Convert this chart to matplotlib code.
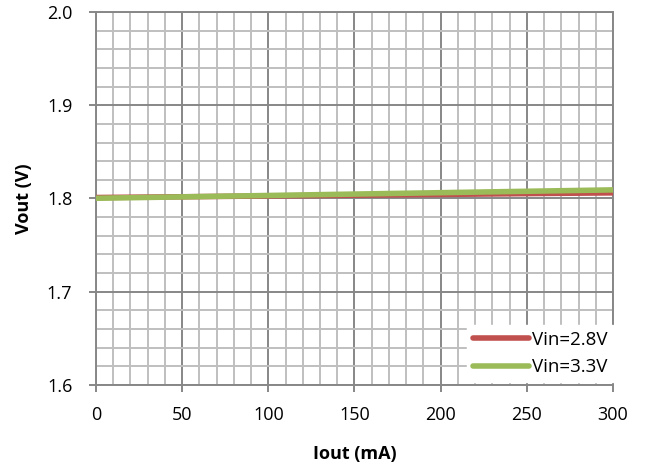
import numpy as np
import matplotlib.pyplot as plt
from matplotlib.ticker import MultipleLocator

plt.rcParams['font.family'] = ['Open Sans', 'DejaVu Sans']

# data
iout = [0, 50, 100, 150, 200, 250, 300]
vout_28 = [1.8010, 1.8018, 1.8027, 1.8035, 1.8043, 1.8052, 1.8060]
vout_33 = [1.8002, 1.8017, 1.8032, 1.8047, 1.8062, 1.8077, 1.8092]
labels = ['Vin=2.8V', 'Vin=3.3V']

fig = plt.figure(figsize=(6.45, 4.7), dpi=100)
ax = fig.add_axes([0.1488, 0.181, 0.8016, 0.7935])

ax.plot(iout, vout_28, color='#C0504D', lw=4, solid_capstyle='round', label=labels[0], zorder=3)
ax.plot(iout, vout_33, color='#9BBB59', lw=4, solid_capstyle='round', label=labels[1], zorder=4)

ax.set_xlim(0, 300)
ax.set_ylim(1.6, 2.0)
ax.xaxis.set_major_locator(MultipleLocator(50))
ax.xaxis.set_minor_locator(MultipleLocator(10))
ax.yaxis.set_major_locator(MultipleLocator(0.1))
ax.yaxis.set_minor_locator(MultipleLocator(0.02))
ax.yaxis.set_major_formatter(plt.FormatStrFormatter('%.1f'))

ax.grid(which='major', color='#878787', lw=1.4)
ax.grid(which='minor', color='#bfbfbf', lw=1.4)
ax.set_axisbelow(True)

for s in ax.spines.values():
    s.set_color('#878787')
    s.set_linewidth(1.4)

ax.tick_params(which='major', length=5, color='#878787', width=1.4, labelsize=13)
ax.tick_params(axis='y', pad=12)
ax.tick_params(axis='x', pad=10)
ax.tick_params(which='minor', length=0)

ax.set_xlabel('Iout (mA)', fontsize=13, fontweight='bold')
ax.set_ylabel('Vout (V)', fontsize=13, fontweight='bold')
ax.xaxis.set_label_coords(0.5, -0.162)
ax.yaxis.set_label_coords(-0.122, 0.5)

leg = ax.legend(loc='lower right', bbox_to_anchor=(1.0, 0.008), fontsize=13.5,
                frameon=True, fancybox=False, handlelength=3.0, handletextpad=0.16,
                borderaxespad=0, labelspacing=0.5, borderpad=0.3)
leg.get_frame().set_edgecolor('white')
leg.get_frame().set_alpha(1)

fig.savefig('out.png', dpi=100)
